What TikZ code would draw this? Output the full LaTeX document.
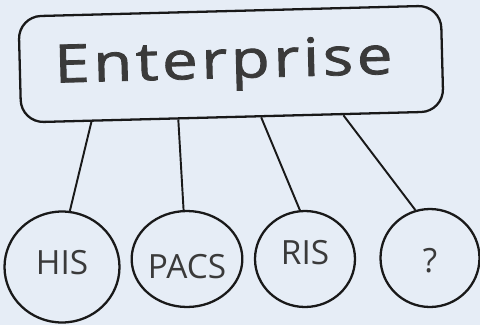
\documentclass[tikz,border=0pt]{standalone}
\usepackage{fontspec}
\setmainfont{Open Sans}
\usepackage{tikz}
\usetikzlibrary{positioning, shapes}
\definecolor{fondo}{RGB}{230, 237, 246}
\definecolor{tinta}{RGB}{25, 25, 25}
\definecolor{letra}{RGB}{58, 58, 58}
\tikzset{
    caja/.style={draw=tinta, line width=1.3pt, rounded corners=0.45cm, minimum width=8.45cm, minimum height=2.12cm, inner sep=0pt, text=letra, font=\fontsize{30}{32}\selectfont, text height=0.56cm, text depth=0pt},
    sist/.style={draw=tinta, line width=1.3pt, ellipse, inner sep=0pt, text=letra, font=\fontsize{19}{21}\selectfont, text height=0.48cm, text depth=0pt},
    conn/.style={-, tinta, line width=1.1pt},
}
\begin{document}
\begin{tikzpicture}[x=0.02cm, y=-0.02cm]
    \fill[fondo] (0,0) rectangle (480,325);
    \useasboundingbox (0,0) rectangle (480,325);

    \node [caja, rotate=1.5] (r) at (231,64) {\addfontfeature{LetterSpace=6,FakeBold=1.5}\scalebox{1.2}[1]{Enterprise}\hspace*{0.3cm}};

    \node [sist, minimum width=2.3cm, minimum height=2.22cm] (ch1) at (62,267) {\raisebox{0.1cm}{HIS}};
    \node [sist, minimum width=2cm, minimum height=1.92cm] (ch2) at (187,259) {\raisebox{-0.14cm}{PACS}};
    \node [sist, minimum width=2cm, minimum height=1.92cm] (ch3) at (305,259) {\raisebox{0.14cm}{RIS}};
    \node [sist, minimum width=1.98cm, minimum height=1.96cm] (ch4) at (430,258) {\raisebox{-0.04cm}{?}};

    \draw[conn] (r.201) -- (ch1.82);
    \draw[conn] (r.225) -- (ch2.94);
    \draw[conn] (r.298) -- (ch3.96);
    \draw[conn] (r.334) -- (ch4.107);
\end{tikzpicture}
\end{document}
